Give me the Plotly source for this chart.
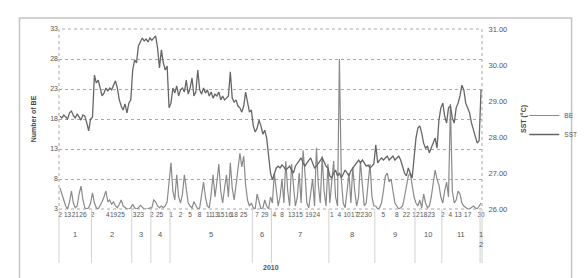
import plotly.graph_objects as go

# ---------------- data ----------------
months = ["1", "2", "3", "4", "5", "6", "7", "8", "9", "10", "11", "1<br>2"]
month_sizes = [17, 21, 10, 10, 43, 10, 30, 24, 21, 14, 20, 1]
year_label = "2010"

day_tick_idx = [0, 4, 8, 12, 17, 25, 28, 32, 39, 42, 48, 52,
                58, 63, 68, 73, 78, 81, 84, 88, 91, 96, 103, 107,
                112, 116, 121, 125, 130, 134, 142, 146, 150, 154, 157, 161,
                169, 176, 181, 186, 190, 194, 200, 204, 208, 213, 220]
day_tick_text = ["2", "13", "21", "26", "2", "4", "19", "25", "3", "23", "2", "25",
                 "1", "2", "5", "8", "11", "13", "15", "16", "18", "25", "7", "29",
                 "4", "8", "13", "15", "19", "24", "1", "4", "10", "17", "22", "30",
                 "5", "8", "22", "12", "18", "23", "2", "4", "13", "17", "30"]

be = [6.5, 5.5, 4.2, 3.5, 3, 4.2, 6, 4, 3.2, 3.5, 5.5, 6.8, 4.5, 3.2, 3, 3.2, 4, 5.7,
      4, 3.2, 3, 3.5, 4.2, 5, 6, 4.2, 4.5, 3.8, 4.2, 3.5, 3.2, 3.8, 4.5, 3.5, 3.2, 3, 3, 3.2,
      3.8, 3.2, 3, 3.2, 3.6, 3.2, 3, 3, 3, 3.2,
      3.2, 4.5, 4.2, 3.5, 3.2, 3.5, 3.2, 3.5, 4.2, 7.5,
      10.7, 6, 4.5, 8.7, 5, 4, 5.5, 8.7, 6, 4, 3.5, 3.2, 4.2, 3.5, 3, 3.2, 5, 7.5, 5, 3.5,
      3.2, 5.5, 8.7, 5, 7.5, 10.5, 6, 4, 6.5, 8.7, 5, 10.7, 6.5, 4.5, 7, 9.5, 12.3, 10, 11.8,
      7, 4.5, 3.5, 4,
      3.2, 3, 5.5, 4, 3, 3.2, 4.5, 3.5, 3, 5,
      4, 9, 6, 3.5, 5, 8, 4, 11, 6, 3.5, 10.5, 7, 3.5, 5, 9, 4, 12.8, 9, 4, 3.2, 6, 8, 3.5,
      13.2, 7, 4, 11.8, 6, 3.5, 10.5,
      4, 8, 11, 5, 3.5, 28, 8, 4, 3.2, 6, 9, 4, 10, 6, 3.5, 5, 11, 7, 3.5, 4, 8, 10.5, 5, 3.5,
      3.5, 3, 3.2, 4, 6, 8.5, 9, 7.5, 8, 6, 4, 3.5, 3, 3.2, 3.5, 5, 7, 8.5, 9, 7, 5,
      4, 3.5, 4.5, 3.2, 5.5, 4, 3.2, 3.5, 5, 7, 9.5, 8,
      7, 5, 4, 6, 7.5, 5, 20.5, 6, 4, 4.5, 6, 5.5, 4, 3.5, 3.2, 3, 3, 3.2, 3.5, 3.2, 3,
      3.5, 4]

sst = [28.58, 28.53, 28.61, 28.56, 28.50, 28.67, 28.72, 28.60, 28.53, 28.64, 28.56, 28.47,
       28.61, 28.58, 28.39, 28.17, 28.50, 28.55,
       29.72, 29.50, 29.58, 29.36, 29.14, 29.22, 29.36, 29.28, 29.36, 29.31, 29.42, 29.56,
       29.36, 29.03, 28.86, 28.75, 28.92, 28.67, 28.94, 29.03,
       29.86, 30.14, 30.06, 30.53, 30.64, 30.75, 30.67, 30.72, 30.64, 30.75,
       30.69, 30.75, 30.81, 30.47, 29.92, 30.42, 30.06, 29.86, 29.97, 28.81,
       28.94, 29.36, 29.22, 29.42, 29.14, 29.31, 29.36, 29.25, 29.58, 29.19, 29.36, 29.64,
       29.14, 29.25, 29.86, 29.31, 29.19, 29.36, 29.22, 29.31, 29.14, 29.25, 29.08, 29.19,
       29.14, 29.25, 29.03, 29.14, 29.03, 29.08, 29.14, 29.81, 29.08, 28.97, 29.03, 28.86,
       28.81, 28.69, 28.86, 29.25, 28.92, 28.69, 28.75,
       28.31, 28.14, 28.25, 28.47, 28.31, 28.08, 28.19, 27.97, 27.42, 27.00,
       26.81, 27.00, 27.14, 27.19, 27.14, 27.22, 27.17, 27.08, 27.14, 27.19, 27.08, 27.00,
       27.19, 27.28, 27.36, 27.42, 27.28, 27.19, 27.28, 27.36, 27.42, 27.28, 27.14, 27.19,
       27.28, 27.36, 27.42, 27.31, 27.19, 27.14,
       26.92, 26.86, 27.00, 27.08, 26.92, 27.00, 26.86, 26.97, 27.08, 27.00, 26.92, 27.06,
       27.14, 27.19, 27.28, 27.36, 27.28, 27.36, 27.28, 27.19, 27.22, 27.14, 27.19, 27.25,
       27.78, 27.28, 27.36, 27.42, 27.36, 27.42, 27.47, 27.36, 27.42, 27.47, 27.36, 27.42,
       27.47, 27.36, 27.19, 27.00, 26.92, 27.14, 27.00, 26.86, 27.42,
       27.97, 28.25, 28.31, 28.11, 27.83, 27.69, 27.75, 27.56, 27.69, 27.83, 27.97, 27.69,
       28.47, 28.81, 28.94, 28.58, 28.39, 28.81, 28.86, 28.53, 28.39, 28.81, 28.94, 29.14,
       29.44, 29.31, 28.94, 28.81, 28.67, 28.39, 28.19, 28.03, 27.83,
       27.90, 29.31]

be_ticks = [3, 8, 13, 18, 23, 28, 33]
sst_ticks = [26, 27, 28, 29, 30, 31]

# ---------------- figure ----------------
n = len(sst)
x = list(range(n))
FONT = "Liberation Sans"

fig = go.Figure()
fig.add_trace(go.Scatter(x=x, y=be, name="BE", mode="lines",
                         line=dict(color="#8a8a8a", width=1.2)))
fig.add_trace(go.Scatter(x=x, y=sst, name="SST", mode="lines", yaxis="y2",
                         line=dict(color="#666666", width=1.3)))

shapes = []
# dotted plot frame
shapes.append(dict(type="rect", xref="paper", yref="paper", x0=0, x1=1, y0=0, y1=1,
                   line=dict(color="#a8a8a8", width=1, dash="dot"), layer="below"))
# outer chart border
shapes.append(dict(type="rect", xref="paper", yref="paper", x0=-0.0934, x1=1.2118,
                   y0=-0.417, y1=1.061, line=dict(color="#c4c4c4", width=1.5)))

annotations = []
start = 0
bounds = [0]
for m, size in zip(months, month_sizes):
    annotations.append(dict(x=(start + size / 2) / n, y=-0.107, xref="paper", yref="paper",
                            text=m, showarrow=False, yanchor="top", xanchor="center",
                            font=dict(size=7.5, color="#555", family=FONT)))
    start += size
    bounds.append(start)
for b in bounds:
    shapes.append(dict(type="line", xref="paper", yref="paper", x0=b / n, x1=b / n,
                       y0=0, y1=-0.30, line=dict(color="#d2d2d2", width=1)))

annotations.append(dict(x=0.5, y=-0.356, xref="paper", yref="paper", text="<b>" + year_label + "</b>",
                        showarrow=False, font=dict(size=7, color="#555", family=FONT)))

fig.update_layout(
    width=586, height=278, autosize=False,
    margin=dict(l=51, r=96, t=21, b=77),
    paper_bgcolor="white", plot_bgcolor="white",
    font=dict(family=FONT, size=7, color="#555"),
    xaxis=dict(range=[-0.5, n - 0.5], tickmode="array", tickvals=day_tick_idx,
               ticktext=day_tick_text, showgrid=False, zeroline=False, showline=False,
               ticks="", tickfont=dict(size=6.5, color="#555", family=FONT), tickangle=0),
    yaxis=dict(range=[3, 33], tickmode="array", tickvals=be_ticks, showgrid=True,
               gridcolor="#a8a8a8", griddash="dot", gridwidth=1, zeroline=False,
               showline=False, tickfont=dict(size=7, color="#555", family=FONT),
               title=dict(text="<b>Number of BE</b>", standoff=12,
                          font=dict(size=7, color="#444", family=FONT))),
    yaxis2=dict(range=[26, 31], overlaying="y", side="right", tickmode="array",
                tickvals=sst_ticks, tickformat=".2f", showgrid=False, zeroline=False,
                showline=False, ticks="outside", ticklen=4, tickcolor="rgba(0,0,0,0)",
                tickfont=dict(size=7.5, color="#555", family=FONT),
                title=dict(text="<b>SST (°C)</b>", standoff=14,
                           font=dict(size=7, color="#444", family=FONT))),
    legend=dict(x=1.10, y=0.60, xanchor="left", yanchor="top", bgcolor="rgba(0,0,0,0)",
                font=dict(size=6.5, color="#555", family=FONT), itemwidth=30,
                tracegroupgap=0),
    shapes=shapes, annotations=annotations, showlegend=True,
)

fig.write_html("out.html")
